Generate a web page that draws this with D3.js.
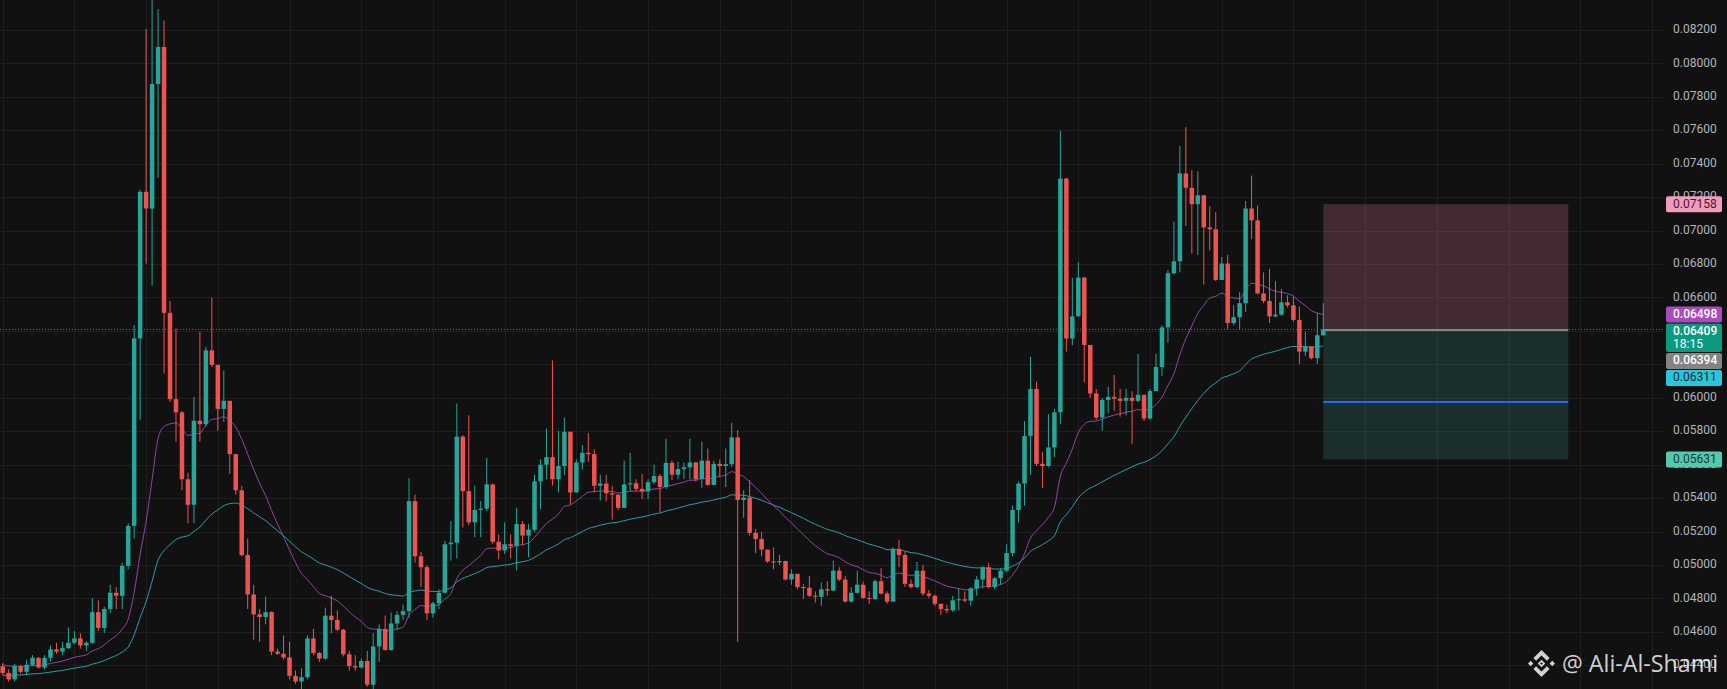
<!DOCTYPE html>
<html>
<head>
<meta charset="utf-8">
<script src="https://cdn.jsdelivr.net/npm/d3@7/dist/d3.min.js"></script>
<style>
html, body { margin: 0; padding: 0; background: #111111; overflow: hidden; }
svg { display: block; }
</style>
</head>
<body>
<svg id="chart" width="1727" height="689"></svg>
<script>
// candle data (open = previous close)
const firstOpen = 0.04395;
const closes = [
	0.04355, 0.04316, 0.04395, 0.04361, 0.04403, 0.04445, 0.04387, 0.04445, 0.04495, 0.04482,
	0.04503, 0.04535, 0.04561, 0.04519, 0.04535, 0.04718, 0.04624, 0.04737, 0.04834, 0.04816,
	0.04995, 0.05234, 0.06355, 0.07232, 0.07132, 0.07877, 0.08098, 0.06508, 0.05992, 0.05913,
	0.05513, 0.05360, 0.05863, 0.05842, 0.06284, 0.06197, 0.05934, 0.05982, 0.05663, 0.05447,
	0.05060, 0.04824, 0.04705, 0.04689, 0.04718, 0.04482, 0.04469, 0.04447, 0.04337, 0.04303,
	0.04329, 0.04561, 0.04474, 0.04440, 0.04697, 0.04671, 0.04613, 0.04466, 0.04395, 0.04387,
	0.04426, 0.04284, 0.04513, 0.04618, 0.04492, 0.04650, 0.04702, 0.04724, 0.05382, 0.05052,
	0.04987, 0.04711, 0.04771, 0.04834, 0.05124, 0.05134, 0.05768, 0.05442, 0.05255, 0.05329,
	0.05337, 0.05482, 0.05139, 0.05087, 0.05124, 0.05113, 0.05245, 0.05176, 0.05211, 0.05500,
	0.05600, 0.05645, 0.05513, 0.05592, 0.05797, 0.05434, 0.05613, 0.05671, 0.05663, 0.05474,
	0.05487, 0.05429, 0.05421, 0.05342, 0.05482, 0.05489, 0.05455, 0.05440, 0.05495, 0.05532,
	0.05466, 0.05611, 0.05540, 0.05574, 0.05584, 0.05613, 0.05513, 0.05624, 0.05479, 0.05605,
	0.05592, 0.05603, 0.05763, 0.05389, 0.05403, 0.05192, 0.05155, 0.05092, 0.05021, 0.05016,
	0.05024, 0.04913, 0.04947, 0.04868, 0.04863, 0.04816, 0.04810, 0.04855, 0.04847, 0.04966,
	0.04913, 0.04781, 0.04834, 0.04882, 0.04803, 0.04797, 0.04903, 0.04829, 0.04781, 0.05097,
	0.05060, 0.04887, 0.04868, 0.04966, 0.04829, 0.04816, 0.04768, 0.04737, 0.04729, 0.04789,
	0.04795, 0.04787, 0.04860, 0.04913, 0.04987, 0.04868, 0.04921, 0.04966, 0.05071, 0.05329,
	0.05487, 0.05771, 0.06053, 0.05605, 0.05592, 0.05703, 0.05913, 0.07311, 0.06355, 0.06487,
	0.06719, 0.06316, 0.06026, 0.05882, 0.05987, 0.06005, 0.05995, 0.05982, 0.06000, 0.05982,
	0.06018, 0.05876, 0.06040, 0.06184, 0.06421, 0.06745, 0.06816, 0.07342, 0.07256, 0.07158,
	0.07211, 0.07019, 0.07008, 0.06705, 0.06803, 0.06447, 0.06482, 0.06566, 0.07132, 0.07061,
	0.06624, 0.06579, 0.06487, 0.06497, 0.06571, 0.06553, 0.06466, 0.06276, 0.06308, 0.06237,
	0.06374, 0.06409
];
const highs = [
	0.04413, 0.04377, 0.04408, 0.04403, 0.04434, 0.04461, 0.04450, 0.04461, 0.04519, 0.04535,
	0.04540, 0.04626, 0.04605, 0.04592, 0.04545, 0.04803, 0.04789, 0.04750, 0.04882, 0.04868,
	0.05013, 0.05250, 0.06434, 0.07245, 0.08206, 0.08382, 0.08324, 0.08256, 0.06579, 0.06413,
	0.05921, 0.05553, 0.06005, 0.06395, 0.06303, 0.06598, 0.06197, 0.06163, 0.05982, 0.05658,
	0.05474, 0.05158, 0.04882, 0.04737, 0.04810, 0.04724, 0.04500, 0.04579, 0.04540, 0.04368,
	0.04382, 0.04579, 0.04618, 0.04479, 0.04745, 0.04816, 0.04729, 0.04618, 0.04487, 0.04461,
	0.04440, 0.04487, 0.04592, 0.04645, 0.04697, 0.04716, 0.04724, 0.04763, 0.05519, 0.05421,
	0.05079, 0.05000, 0.04781, 0.04855, 0.05145, 0.05263, 0.05966, 0.05776, 0.05895, 0.05474,
	0.05382, 0.05640, 0.05487, 0.05184, 0.05255, 0.05184, 0.05342, 0.05263, 0.05245, 0.05540,
	0.05632, 0.05816, 0.06224, 0.05803, 0.05882, 0.05797, 0.05632, 0.05718, 0.05789, 0.05692,
	0.05540, 0.05540, 0.05474, 0.05421, 0.05624, 0.05671, 0.05513, 0.05545, 0.05513, 0.05600,
	0.05545, 0.05755, 0.05624, 0.05618, 0.05613, 0.05755, 0.05618, 0.05737, 0.05697, 0.05624,
	0.05632, 0.05697, 0.05850, 0.05808, 0.05447, 0.05508, 0.05216, 0.05197, 0.05092, 0.05105,
	0.05060, 0.05026, 0.04974, 0.04947, 0.04887, 0.04934, 0.04842, 0.04895, 0.04903, 0.05026,
	0.04987, 0.04934, 0.04868, 0.04966, 0.04900, 0.04842, 0.04913, 0.04981, 0.04842, 0.05105,
	0.05150, 0.05079, 0.04913, 0.05018, 0.05000, 0.04850, 0.04824, 0.04768, 0.04763, 0.04816,
	0.04860, 0.04842, 0.04868, 0.04934, 0.04992, 0.05013, 0.04929, 0.04981, 0.05124, 0.05355,
	0.05500, 0.05861, 0.06245, 0.06097, 0.05676, 0.05903, 0.05934, 0.07598, 0.07316, 0.06719,
	0.06811, 0.06724, 0.06316, 0.06053, 0.06000, 0.06066, 0.06137, 0.06053, 0.06053, 0.06040,
	0.06263, 0.06018, 0.06053, 0.06263, 0.06434, 0.06763, 0.07053, 0.07506, 0.07619, 0.07361,
	0.07355, 0.07211, 0.07145, 0.07111, 0.06842, 0.06855, 0.06553, 0.06632, 0.07177, 0.07329,
	0.07150, 0.06750, 0.06771, 0.06698, 0.06650, 0.06613, 0.06605, 0.06545, 0.06395, 0.06308,
	0.06508, 0.06566
];
const lows = [
	0.04342, 0.04303, 0.04303, 0.04350, 0.04342, 0.04395, 0.04382, 0.04377, 0.04421, 0.04469,
	0.04461, 0.04498, 0.04527, 0.04500, 0.04487, 0.04527, 0.04605, 0.04592, 0.04711, 0.04737,
	0.04737, 0.04974, 0.05158, 0.05868, 0.06803, 0.06671, 0.07316, 0.06145, 0.05974, 0.05737,
	0.05447, 0.05250, 0.05250, 0.05737, 0.05829, 0.06184, 0.05803, 0.05855, 0.05545, 0.05421,
	0.05052, 0.04737, 0.04553, 0.04540, 0.04645, 0.04461, 0.04461, 0.04434, 0.04316, 0.04289,
	0.04258, 0.04316, 0.04461, 0.04421, 0.04434, 0.04592, 0.04605, 0.04453, 0.04368, 0.04368,
	0.04382, 0.04271, 0.04258, 0.04421, 0.04487, 0.04487, 0.04613, 0.04671, 0.04684, 0.05013,
	0.04868, 0.04671, 0.04684, 0.04737, 0.04829, 0.05026, 0.05039, 0.05224, 0.05237, 0.05166,
	0.05166, 0.05324, 0.05126, 0.05034, 0.05066, 0.05039, 0.04968, 0.05118, 0.05045, 0.05197,
	0.05334, 0.05513, 0.05474, 0.05434, 0.05540, 0.05363, 0.05434, 0.05571, 0.05618, 0.05434,
	0.05387, 0.05382, 0.05271, 0.05329, 0.05342, 0.05440, 0.05440, 0.05395, 0.05395, 0.05482,
	0.05316, 0.05455, 0.05508, 0.05513, 0.05513, 0.05513, 0.05500, 0.05461, 0.05474, 0.05487,
	0.05526, 0.05466, 0.05587, 0.04540, 0.05282, 0.05176, 0.05071, 0.05052, 0.05013, 0.04974,
	0.05000, 0.04908, 0.04882, 0.04855, 0.04797, 0.04808, 0.04776, 0.04755, 0.04816, 0.04842,
	0.04903, 0.04776, 0.04776, 0.04829, 0.04797, 0.04768, 0.04789, 0.04824, 0.04768, 0.04781,
	0.04987, 0.04868, 0.04860, 0.04860, 0.04816, 0.04803, 0.04755, 0.04703, 0.04711, 0.04718,
	0.04729, 0.04776, 0.04755, 0.04816, 0.04860, 0.04860, 0.04855, 0.04882, 0.04955, 0.05052,
	0.05255, 0.05355, 0.05540, 0.05592, 0.05461, 0.05587, 0.05645, 0.05842, 0.06276, 0.06316,
	0.06487, 0.06092, 0.06000, 0.05868, 0.05803, 0.05908, 0.05921, 0.05887, 0.05895, 0.05724,
	0.05974, 0.05861, 0.05868, 0.06040, 0.06132, 0.06329, 0.06737, 0.06750, 0.07027, 0.06861,
	0.06855, 0.06677, 0.06882, 0.06698, 0.06705, 0.06408, 0.06434, 0.06408, 0.06513, 0.06948,
	0.06619, 0.06566, 0.06447, 0.06482, 0.06492, 0.06540, 0.06455, 0.06203, 0.06250, 0.06229,
	0.06203, 0.06369
];

// moving averages: EMA 20 (purple) and EMA 50 (cyan), seeded with the level at the left edge
const emaFastPeriod = 20, emaFastSeed = 0.0441;
const emaSlowPeriod = 50, emaSlowSeed = 0.0434;

const priceTicks = [0.044, 0.046, 0.048, 0.050, 0.052, 0.054, 0.056, 0.058, 0.060, 0.062,
	0.064, 0.066, 0.068, 0.070, 0.072, 0.074, 0.076, 0.078, 0.080, 0.082, 0.084];

// short position tool
const stopPrice = 0.07158, entryPrice = 0.06405, targetPrice = 0.05631;
const levelPrice = 0.05975;
const toolStart = 221, toolEnd = 262;

// price tags on the right scale
const tagPrices = [0.07158, 0.06498, 0.06409, 0.06394, 0.06311, 0.05631];
const tagTexts = ["0.07158", "0.06498", "0.06409", "0.06394", "0.06311", "0.05631"];
const tagSubTexts = ["", "", "18:15", "", "", ""];
const tagFills = ["#f29cbd", "#a84bbd", "#0b9a80", "#848484", "#2cc4d8", "#55c9ae"];
const tagInk = ["#4a1628", "#ffffff", "#ffffff", "#ffffff", "#0b2d36", "#143a32"];

const W = 1727, H = 689, plotRight = 1663;
const green = "#26a69a", red = "#ef5350";

const svg = d3.select("#chart");
const x = d3.scaleLinear().domain([0, closes.length - 1]).range([2.7, 1323.3]);
const y = d3.scaleLinear().domain([0.05, 0.08]).range([565, 63.4]);

svg.append("rect").attr("width", W).attr("height", H).attr("fill", "#111111");

svg.append("defs").append("clipPath").attr("id", "plot")
	.append("rect").attr("width", plotRight).attr("height", H);

const plot = svg.append("g").attr("clip-path", "url(#plot)");

// grid
const timeGrid = d3.range(0, 280, 12);
plot.append("g").selectAll("line").data(timeGrid).join("line")
	.attr("x1", d => Math.round(x(d)) + 0.5).attr("x2", d => Math.round(x(d)) + 0.5)
	.attr("y1", 0).attr("y2", H)
	.attr("stroke", "#1f1f1f");
plot.append("g").selectAll("line").data(priceTicks).join("line")
	.attr("x1", 0).attr("x2", plotRight)
	.attr("y1", d => Math.round(y(d)) + 0.5).attr("y2", d => Math.round(y(d)) + 0.5)
	.attr("stroke", "#1f1f1f");

// position tool
const tx0 = x(toolStart), tx1 = x(toolEnd);
plot.append("rect")
	.attr("x", tx0).attr("width", tx1 - tx0)
	.attr("y", y(stopPrice)).attr("height", y(entryPrice) - y(stopPrice))
	.attr("fill", "rgba(150,85,100,0.38)");
plot.append("rect")
	.attr("x", tx0).attr("width", tx1 - tx0)
	.attr("y", y(entryPrice)).attr("height", y(targetPrice) - y(entryPrice))
	.attr("fill", "rgba(60,150,140,0.22)");
plot.append("line")
	.attr("x1", tx0).attr("x2", tx1)
	.attr("y1", y(entryPrice)).attr("y2", y(entryPrice))
	.attr("stroke", "#8a8a8a").attr("stroke-width", 2);
plot.append("line")
	.attr("x1", tx0).attr("x2", tx1)
	.attr("y1", y(levelPrice)).attr("y2", y(levelPrice))
	.attr("stroke", "#2962ff").attr("stroke-width", 2);

// moving averages
function ema(values, period, seed) {
	const k = 2 / (period + 1);
	let prev = seed;
	return values.map(v => (prev = prev + k * (v - prev)));
}
const line = d3.line().x((d, i) => x(i)).y(d => y(d)).curve(d3.curveMonotoneX);
plot.append("path").datum(ema(closes, emaSlowPeriod, emaSlowSeed))
	.attr("d", line).attr("fill", "none")
	.attr("stroke", "#2fa8bb").attr("stroke-width", 1).attr("opacity", 0.9);
plot.append("path").datum(ema(closes, emaFastPeriod, emaFastSeed))
	.attr("d", line).attr("fill", "none")
	.attr("stroke", "#9a4cb0").attr("stroke-width", 1).attr("opacity", 0.9);

// candles
const candles = closes.map((c, i) => {
	const o = i ? closes[i - 1] : firstOpen;
	return { i: i, o: o, c: c, h: Math.max(highs[i], o, c), l: Math.min(lows[i], o, c) };
});
const cg = plot.append("g").selectAll("g").data(candles).join("g");
cg.append("line")
	.attr("x1", d => x(d.i)).attr("x2", d => x(d.i))
	.attr("y1", d => y(d.h)).attr("y2", d => y(d.l))
	.attr("stroke", d => d.c >= d.o ? green : red).attr("stroke-width", 1);
cg.append("rect")
	.attr("x", d => x(d.i) - 2.25).attr("width", 4.5)
	.attr("y", d => y(Math.max(d.o, d.c)))
	.attr("height", d => Math.max(1, Math.abs(y(d.o) - y(d.c))))
	.attr("fill", d => d.c >= d.o ? green : red);

// last price dotted line
const last = closes[closes.length - 1];
plot.append("line")
	.attr("x1", 0).attr("x2", plotRight)
	.attr("y1", y(last)).attr("y2", y(last))
	.attr("stroke", "#1fa88c").attr("stroke-width", 1)
	.attr("stroke-dasharray", "1 2").attr("opacity", 0.85);

// price scale
const font = "Roboto, 'Noto Sans', sans-serif";
svg.append("g").selectAll("text").data(priceTicks).join("text")
	.attr("x", 1673).attr("y", d => y(d))
	.attr("dominant-baseline", "middle")
	.attr("font-family", font).attr("font-size", 12)
	.attr("fill", "#b2b5be")
	.text(d => d3.format(".5f")(d));

// tags, pushed down so they do not overlap
let floor = -Infinity;
const tags = tagPrices.map((p, i) => {
	const h = tagSubTexts[i] ? 28.4 : 16;
	const top = Math.max(y(p) - 8, floor);
	floor = top + h + 1;
	return { i: i, top: top, h: h };
});
const tg = svg.append("g").selectAll("g").data(tags).join("g");
tg.append("rect")
	.attr("x", 1666).attr("width", 56)
	.attr("y", d => d.top).attr("height", d => d.h)
	.attr("rx", 2)
	.attr("fill", d => tagFills[d.i]);
tg.append("text")
	.attr("x", 1673).attr("y", d => d.top + 8.3)
	.attr("dominant-baseline", "middle")
	.attr("font-family", font).attr("font-size", 12)
	.attr("font-weight", d => tagInk[d.i] === "#ffffff" ? 500 : 400)
	.attr("fill", d => tagInk[d.i])
	.text(d => tagTexts[d.i]);
tg.filter(d => tagSubTexts[d.i]).append("text")
	.attr("x", 1673).attr("y", d => d.top + 21.5)
	.attr("dominant-baseline", "middle")
	.attr("font-family", font).attr("font-size", 12)
	.attr("fill", d => tagInk[d.i])
	.text(d => tagSubTexts[d.i]);

// watermark
const wm = svg.append("g").attr("fill", "rgba(236,236,236,0.88)");
const logo = wm.append("g").attr("transform", "translate(1541.5,663.5) scale(13.5)");
logo.append("path").attr("d", "M-0.6,-0.4L0,-1L0.6,-0.4L0.4,-0.2L0,-0.6L-0.4,-0.2Z");
logo.append("path").attr("d", "M-0.6,0.4L0,1L0.6,0.4L0.4,0.2L0,0.6L-0.4,0.2Z");
logo.append("path").attr("d", "M-1,0L-0.8,-0.2L-0.6,0L-0.8,0.2Z");
logo.append("path").attr("d", "M1,0L0.8,-0.2L0.6,0L0.8,0.2Z");
logo.append("path").attr("d", "M0,-0.28L0.28,0L0,0.28L-0.28,0ZM0,-0.1L-0.1,0L0,0.1L0.1,0Z")
	.attr("fill-rule", "evenodd");
wm.append("text")
	.attr("x", 1562).attr("y", 671.7)
	.attr("font-family", "'Open Sans', 'Noto Sans', sans-serif").attr("font-size", 24)
	.attr("textLength", 156).attr("lengthAdjust", "spacingAndGlyphs")
	.text("@ Ali-Al-Shami");
</script>
</body>
</html>
